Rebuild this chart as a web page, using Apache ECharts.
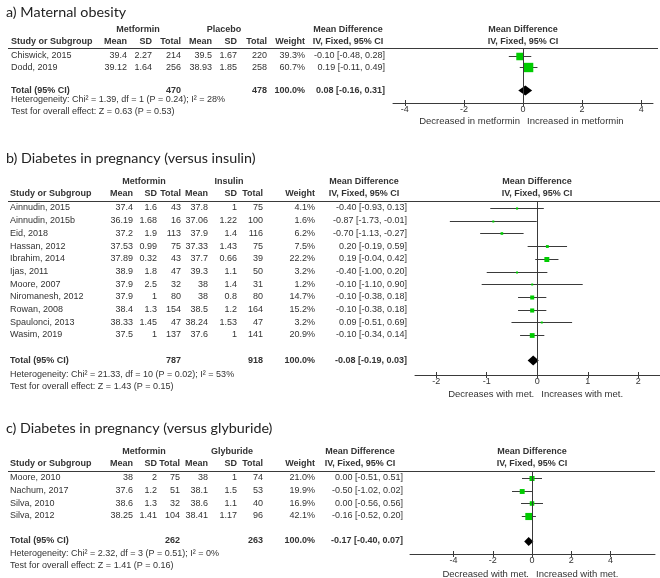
<!DOCTYPE html>
<html><head><meta charset="utf-8">
<script src="https://cdn.jsdelivr.net/npm/echarts@6/dist/echarts.min.js"></script>
<style>html,body{margin:0;padding:0;background:#fff}#c{width:660px;height:578px}</style>
</head><body><div id="c"></div>
<script>
// ---------------- DATA ----------------
const colHeaders = ['Mean', 'SD', 'Total', 'Mean', 'SD', 'Total', 'Weight'];

// a) Maternal obesity
const titleA = 'a) Maternal obesity';
const groupsA = ['Metformin', 'Placebo'];
const studiesA = ['Chiswick, 2015', 'Dodd, 2019'];
const metMeanA = [39.4, 39.12];
const metSdA = [2.27, 1.64];
const metNA = [214, 256];
const ctlMeanA = [39.5, 38.93];
const ctlSdA = [1.67, 1.85];
const ctlNA = [220, 258];
const weightA = [39.3, 60.7];
const mdA = [-0.10, 0.19];
const loA = [-0.48, -0.11];
const hiA = [0.28, 0.49];
const totalA = { n1: 470, n2: 478, md: 0.08, lo: -0.16, hi: 0.31 };
const hetA = 'Heterogeneity: Chi\u00b2 = 1.39, df = 1 (P = 0.24); I\u00b2 = 28%';
const testA = 'Test for overall effect: Z = 0.63 (P = 0.53)';
const ticksA = [-4, -2, 0, 2, 4];
const favA = ['Decreased in metformin', 'Increased in metformin'];

// b) Diabetes in pregnancy (versus insulin)
const titleB = 'b) Diabetes in pregnancy (versus insulin)';
const groupsB = ['Metformin', 'Insulin'];
const studiesB = ['Ainnudin, 2015', 'Ainnudin, 2015b', 'Eid, 2018', 'Hassan, 2012', 'Ibrahim, 2014', 'Ijas, 2011', 'Moore, 2007', 'Niromanesh, 2012', 'Rowan, 2008', 'Spaulonci, 2013', 'Wasim, 2019'];
const metMeanB = [37.4, 36.19, 37.2, 37.53, 37.89, 38.9, 37.9, 37.9, 38.4, 38.33, 37.5];
const metSdB = [1.6, 1.68, 1.9, 0.99, 0.32, 1.8, 2.5, 1, 1.3, 1.45, 1];
const metNB = [43, 16, 113, 75, 43, 47, 32, 80, 154, 47, 137];
const ctlMeanB = [37.8, 37.06, 37.9, 37.33, 37.7, 39.3, 38, 38, 38.5, 38.24, 37.6];
const ctlSdB = [1, 1.22, 1.4, 1.43, 0.66, 1.1, 1.4, 0.8, 1.2, 1.53, 1];
const ctlNB = [75, 100, 116, 75, 39, 50, 31, 80, 164, 47, 141];
const weightB = [4.1, 1.6, 6.2, 7.5, 22.2, 3.2, 1.2, 14.7, 15.2, 3.2, 20.9];
const mdB = [-0.40, -0.87, -0.70, 0.20, 0.19, -0.40, -0.10, -0.10, -0.10, 0.09, -0.10];
const loB = [-0.93, -1.73, -1.13, -0.19, -0.04, -1.00, -1.10, -0.38, -0.38, -0.51, -0.34];
const hiB = [0.13, -0.01, -0.27, 0.59, 0.42, 0.20, 0.90, 0.18, 0.18, 0.69, 0.14];
const totalB = { n1: 787, n2: 918, md: -0.08, lo: -0.19, hi: 0.03 };
const hetB = 'Heterogeneity: Chi\u00b2 = 21.33, df = 10 (P = 0.02); I\u00b2 = 53%';
const testB = 'Test for overall effect: Z = 1.43 (P = 0.15)';
const ticksB = [-2, -1, 0, 1, 2];
const favB = ['Decreases with met.', 'Increases with met.'];

// c) Diabetes in pregnancy (versus glyburide)
const titleC = 'c) Diabetes in pregnancy (versus glyburide)';
const groupsC = ['Metformin', 'Glyburide'];
const studiesC = ['Moore, 2010', 'Nachum, 2017', 'Silva, 2010', 'Silva, 2012'];
const metMeanC = [38, 37.6, 38.6, 38.25];
const metSdC = [2, 1.2, 1.3, 1.41];
const metNC = [75, 51, 32, 104];
const ctlMeanC = [38, 38.1, 38.6, 38.41];
const ctlSdC = [1, 1.5, 1.1, 1.17];
const ctlNC = [74, 53, 40, 96];
const weightC = [21.0, 19.9, 16.9, 42.1];
const mdC = [0.00, -0.50, 0.00, -0.16];
const loC = [-0.51, -1.02, -0.56, -0.52];
const hiC = [0.51, 0.02, 0.56, 0.20];
const totalC = { n1: 262, n2: 263, md: -0.17, lo: -0.40, hi: 0.07 };
const hetC = 'Heterogeneity: Chi\u00b2 = 2.32, df = 3 (P = 0.51); I\u00b2 = 0%';
const testC = 'Test for overall effect: Z = 1.41 (P = 0.16)';
const ticksC = [-4, -2, 0, 2, 4];
const favC = ['Decreased with met.', 'Increased with met.'];

// ---------------- LAYOUT (pixels / styles only) ----------------
const layoutA = { titleY: 12, h1Y: 30, h2Y: 42, lineY: 48, lineX: [8, 658], base: 56, step: 11.4, totalIdx: 3,
  hetY: 100, testY: 112, axisY: 103, axisL: 393, axisR: 653, xMin: -4.4, xMax: 4.4, favY: 121,
  nameX: 11, cols: [127, 152, 181, 212, 237, 267, 305], ciRight: 385, grpC: [138, 224], mdC: 348, fpC: 523,
  sizeK: 1.2, diaH: 10 };
const layoutB = { titleY: 158, h1Y: 182, h2Y: 194, lineY: 201, lineX: [8, 660], base: 208, step: 12.7, totalIdx: 12,
  hetY: 375, testY: 387, axisY: 375, axisL: 415, axisR: 660, xMin: -2.42, xMax: 2.43, favY: 394,
  nameX: 10, cols: [133, 157, 181, 208, 237, 263, 315], ciRight: 407, grpC: [144, 229], mdC: 364, fpC: 537,
  sizeK: 1.05, diaH: 10 };
const layoutC = { titleY: 428, h1Y: 452, h2Y: 464, lineY: 471, lineX: [8, 655], base: 478, step: 12.6, totalIdx: 5,
  hetY: 554, testY: 566, axisY: 554, axisL: 410, axisR: 655, xMin: -6.22, xMax: 6.27, favY: 574,
  nameX: 10, cols: [133, 157, 180, 208, 237, 263, 315], ciRight: 403, grpC: [144, 232], mdC: 360, fpC: 532,
  sizeK: 1.1, diaH: 9 };

const panels = [
  { title: titleA, groups: groupsA, studies: studiesA, m1: metMeanA, s1: metSdA, n1: metNA, m2: ctlMeanA, s2: ctlSdA, n2: ctlNA,
    w: weightA, md: mdA, lo: loA, hi: hiA, total: totalA, het: hetA, test: testA, ticks: ticksA, fav: favA, L: layoutA },
  { title: titleB, groups: groupsB, studies: studiesB, m1: metMeanB, s1: metSdB, n1: metNB, m2: ctlMeanB, s2: ctlSdB, n2: ctlNB,
    w: weightB, md: mdB, lo: loB, hi: hiB, total: totalB, het: hetB, test: testB, ticks: ticksB, fav: favB, L: layoutB },
  { title: titleC, groups: groupsC, studies: studiesC, m1: metMeanC, s1: metSdC, n1: metNC, m2: ctlMeanC, s2: ctlSdC, n2: ctlNC,
    w: weightC, md: mdC, lo: loC, hi: hiC, total: totalC, het: hetC, test: testC, ticks: ticksC, fav: favC, L: layoutC }
];

const FONT = "'Liberation Sans', Arial, sans-serif";
const TXT = '#333';
const LINE = '#3a3a3a';
const fmt = (v) => v.toFixed(2);
const ciText = (m, l, h) => fmt(m) + ' [' + fmt(l) + ', ' + fmt(h) + ']';

function txt(text, x, y, align, bold, size, color, family) {
  return { type: 'text', silent: true, x: x, y: y,
    style: { text: String(text), align: align || 'left', verticalAlign: 'middle',
      font: (bold ? 'bold ' : '') + (size || 9) + 'px ' + (family || FONT), fill: color || TXT } };
}

const grids = [], xAxes = [], yAxes = [], series = [], elements = [];

panels.forEach(function (P, pi) {
  const L = P.L;
  const rowY = (r) => L.base + r * L.step;
  const height = L.axisY - L.lineY;
  const yMin = -(L.base - L.lineY) / L.step;
  const yMax = yMin + height / L.step;
  grids.push({ left: L.axisL, width: L.axisR - L.axisL, top: L.lineY, height: height });
  const common = { type: 'value', gridIndex: pi, min: L.xMin, max: L.xMax, position: 'bottom', splitLine: { show: false } };
  xAxes.push(Object.assign({}, common, {
    axisLine: { show: true, onZero: false, lineStyle: { color: LINE, width: 1 } },
    axisTick: { show: true, inside: false, length: 3, customValues: P.ticks, lineStyle: { color: LINE } },
    axisLabel: { show: true, customValues: P.ticks, margin: 2, fontSize: 9, fontFamily: FONT, color: TXT }
  }));
  xAxes.push(Object.assign({}, common, {
    axisLine: { show: false, onZero: false },
    axisTick: { show: true, inside: true, length: 3, customValues: P.ticks, lineStyle: { color: LINE } },
    axisLabel: { show: false }
  }));
  yAxes.push({ type: 'value', gridIndex: pi, min: yMin, max: yMax, inverse: true, show: false });

  const data = P.studies.map(function (s, i) { return [P.md[i], P.lo[i], P.hi[i], i, P.w[i], 0]; });
  data.push([P.total.md, P.total.lo, P.total.hi, L.totalIdx, 100, 1]);

  series.push({
    type: 'custom', xAxisIndex: pi * 2, yAxisIndex: pi, silent: true, clip: false,
    data: data,
    renderItem: function (params, api) {
      const md = api.value(0), lo = api.value(1), hi = api.value(2), row = api.value(3), w = api.value(4), tot = api.value(5);
      const pm = api.coord([md, row]);
      const pl = api.coord([lo, row]);
      const ph = api.coord([hi, row]);
      const y = Math.round(pm[1]) + 0.5;
      if (tot) {
        const h = L.diaH / 2;
        return { type: 'polygon', shape: { points: [[pl[0], y], [pm[0], y - h], [ph[0], y], [pm[0], y + h]] }, style: { fill: '#000' } };
      }
      const s = Math.max(2, L.sizeK * Math.sqrt(w));
      return { type: 'group', children: [
        { type: 'line', shape: { x1: pl[0], y1: y, x2: ph[0], y2: y }, style: { stroke: LINE, lineWidth: 1 } },
        { type: 'rect', shape: { x: pm[0] - s / 2, y: y - s / 2, width: s, height: s }, style: { fill: '#00cc00' } }
      ] };
    },
    markLine: { silent: true, symbol: ['none', 'none'], label: { show: false },
      lineStyle: { color: LINE, width: 1, type: 'solid' }, data: [{ xAxis: 0 }] }
  });

  // title
  elements.push(txt(P.title, 6, L.titleY, 'left', false, 14.3, '#222', "Lato, 'Open Sans', sans-serif"));
  // header row 1
  elements.push(txt(P.groups[0], L.grpC[0], L.h1Y, 'center', true));
  elements.push(txt(P.groups[1], L.grpC[1], L.h1Y, 'center', true));
  elements.push(txt('Mean Difference', L.mdC, L.h1Y, 'center', true));
  elements.push(txt('Mean Difference', L.fpC, L.h1Y, 'center', true));
  // header row 2
  elements.push(txt('Study or Subgroup', L.nameX, L.h2Y, 'left', true));
  colHeaders.forEach(function (h, k) { elements.push(txt(h, L.cols[k], L.h2Y, 'right', true)); });
  elements.push(txt('IV, Fixed, 95% CI', L.mdC, L.h2Y, 'center', true));
  elements.push(txt('IV, Fixed, 95% CI', L.fpC, L.h2Y, 'center', true));
  // header line
  elements.push({ type: 'line', silent: true, shape: { x1: L.lineX[0], y1: L.lineY + 0.5, x2: L.lineX[1], y2: L.lineY + 0.5 },
    style: { stroke: LINE, lineWidth: 1.2 } });
  // study rows
  P.studies.forEach(function (s, i) {
    const y = rowY(i);
    elements.push(txt(s, L.nameX, y, 'left'));
    const cells = [P.m1[i], P.s1[i], P.n1[i], P.m2[i], P.s2[i], P.n2[i], P.w[i].toFixed(1) + '%'];
    cells.forEach(function (c, k) { elements.push(txt(c, L.cols[k], y, 'right')); });
    elements.push(txt(ciText(P.md[i], P.lo[i], P.hi[i]), L.ciRight, y, 'right'));
  });
  // total row
  const ty = rowY(L.totalIdx);
  elements.push(txt('Total (95% CI)', L.nameX, ty, 'left', true));
  elements.push(txt(P.total.n1, L.cols[2], ty, 'right', true));
  elements.push(txt(P.total.n2, L.cols[5], ty, 'right', true));
  elements.push(txt('100.0%', L.cols[6], ty, 'right', true));
  elements.push(txt(ciText(P.total.md, P.total.lo, P.total.hi), L.ciRight, ty, 'right', true));
  // heterogeneity / test
  elements.push(txt(P.het, L.nameX, L.hetY, 'left'));
  elements.push(txt(P.test, L.nameX, L.testY, 'left'));
  // favours labels
  const zeroX = L.axisL + (0 - L.xMin) / (L.xMax - L.xMin) * (L.axisR - L.axisL);
  elements.push(txt(P.fav[0], zeroX - 3, L.favY, 'right', false, 9.5));
  elements.push(txt(P.fav[1], zeroX + 4, L.favY, 'left', false, 9.5));
});

const chart = echarts.init(document.getElementById('c'), null, { renderer: 'canvas' });
chart.setOption({
  animation: false,
  backgroundColor: '#fff',
  grid: grids,
  xAxis: xAxes,
  yAxis: yAxes,
  series: series,
  graphic: { elements: elements }
});
</script>
</body></html>
